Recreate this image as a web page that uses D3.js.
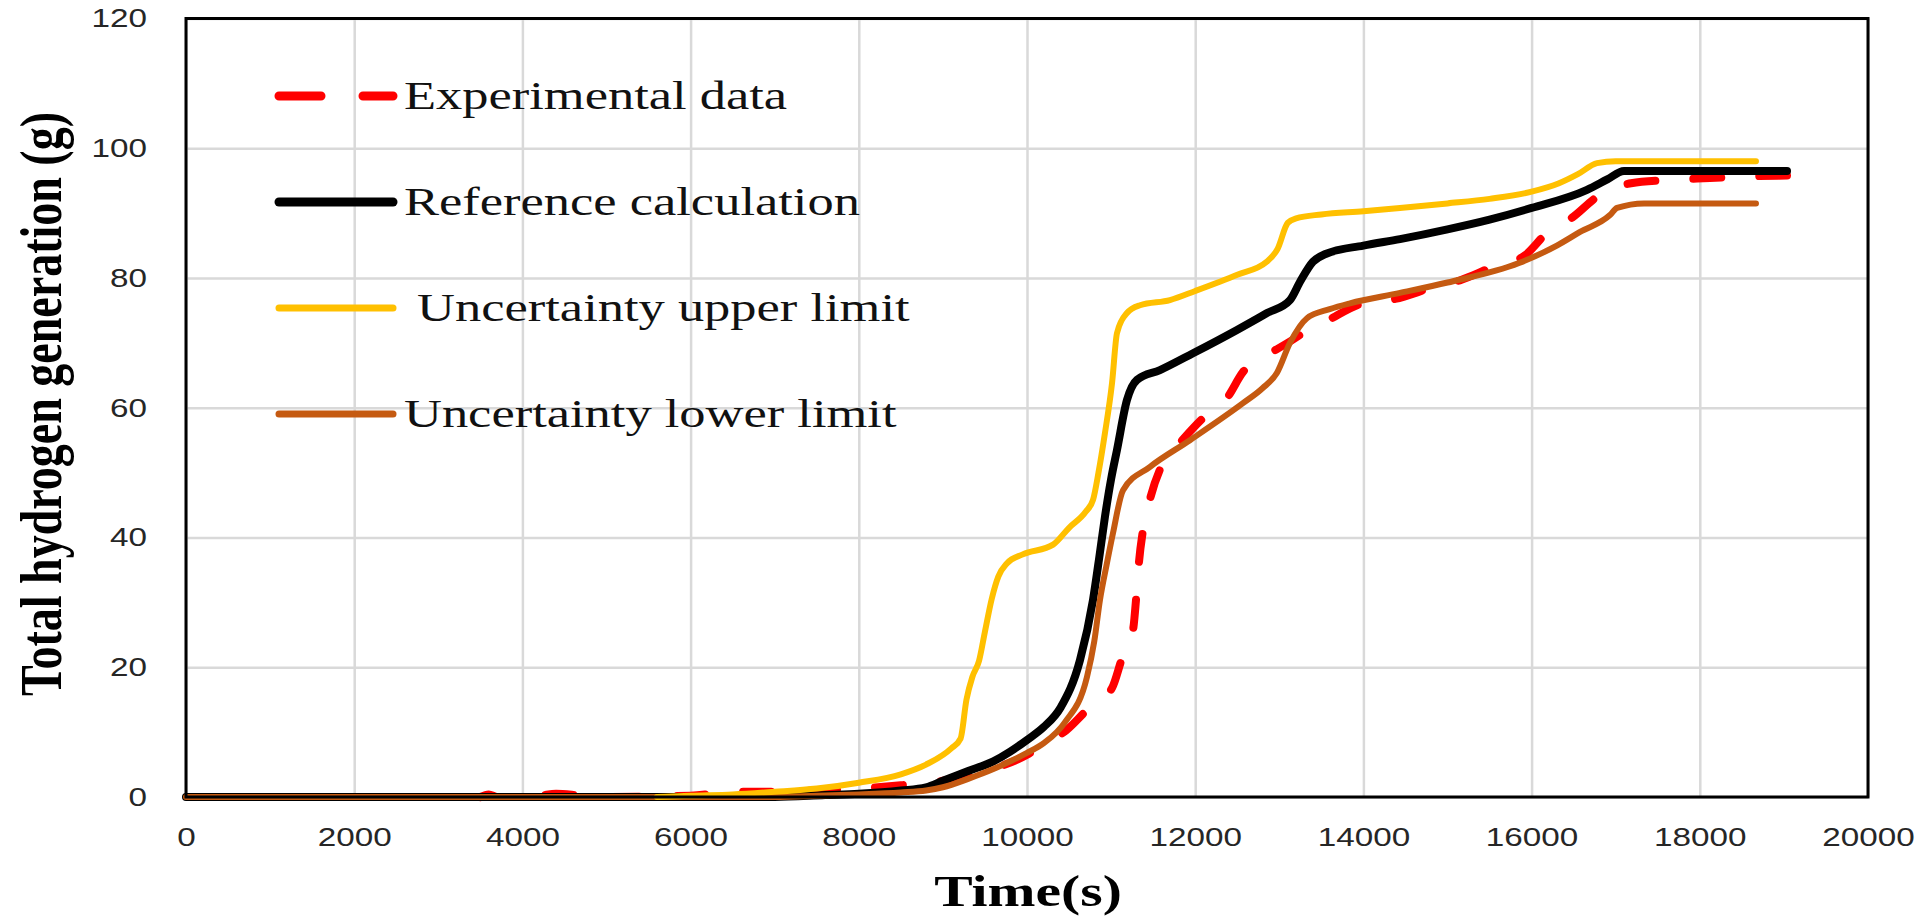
<!DOCTYPE html>
<html>
<head>
<meta charset="utf-8">
<script src="https://cdn.jsdelivr.net/npm/d3@7"></script>
<style>
  body { margin: 0; background: #fff; }
  svg { display: block; }
</style>
</head>
<body>
<svg id="chart"></svg>
<script>
// series: [time (s), hydrogen (g)]
const experimental = [
  [3500, 0], [3600, 0.4], [3700, 0], [4200, 0.2], [4400, 0.5], [4700, 0.2], [5000, 0], [6000, 0.2],
  [6500, 0.8], [7000, 0.8], [7500, 1.0], [8000, 1.3], [8500, 1.8], [9000, 2.5], [9500, 4],
  [10000, 6.5], [10273, 8.8], [10428, 9.9], [10713, 13.4], [11011, 16.8], [11130, 21.4],
  [11260, 25.7], [11300, 31], [11330, 36], [11380, 41.2], [11460, 45.8], [11617, 51.5],
  [11819, 54.6], [12093, 58.4], [12378, 61.5], [12568, 65.5], [12889, 68.4], [13100, 70],
  [13282, 71.5], [13579, 73.5], [13995, 76.1], [14316, 76.6], [14840, 78.6], [15160, 79.7],
  [15500, 81.5], [15922, 83.5], [16171, 86.8], [16492, 89.4], [16778, 92.5], [17182, 94.6],
  [17622, 95.1], [18121, 95.4], [18668, 95.7], [19037, 95.8]
];
const reference = [
  [0, 0], [7000, 0], [7600, 0.3], [8000, 0.5], [8500, 1], [8800, 1.5], [9000, 2.5], [9300, 4],
  [9600, 5.5], [9800, 7], [10000, 8.8], [10200, 10.8], [10400, 13.8], [10630, 21.1], [10785, 30.4],
  [10860, 37], [10927, 43.2], [11000, 49], [11070, 53.5], [11189, 61.2], [11308, 64.3],
  [11581, 65.8], [11974, 68.4], [12497, 72], [12854, 74.6], [13127, 76.6], [13250, 79.5],
  [13400, 82.5], [13550, 83.7], [14000, 85], [14435, 86], [15000, 87.5], [15500, 89],
  [16000, 90.8], [16659, 93.6], [16900, 95.2], [17099, 96.5], [19037, 96.5]
];
const upperLimit = [
  [5600, 0], [6000, 0.2], [6500, 0.4], [7000, 0.8], [7500, 1.3], [8000, 2.2], [8500, 3.5],
  [8800, 5], [9100, 7.5], [9210, 9], [9280, 15], [9350, 18.5], [9430, 21], [9500, 25.5],
  [9580, 30.5], [9660, 34], [9760, 36], [9950, 37.4], [10310, 38.9], [10500, 41.5],
  [10700, 44], [10785, 45.8], [10850, 50], [10927, 56.1], [11011, 63.8], [11070, 71.5],
  [11189, 74.6], [11343, 75.8], [11700, 76.6], [12000, 78], [12500, 80.5], [12850, 82.5],
  [12980, 84.5], [13100, 88.5], [13200, 89.2], [13500, 89.8], [14000, 90.3], [14435, 90.8],
  [15000, 91.5], [15500, 92.2], [16000, 93.3], [16326, 94.6], [16550, 96], [16778, 97.7],
  [17000, 98], [18668, 98]
];
const lowerLimit = [
  [0, 0], [7000, 0], [7500, 0.2], [8000, 0.4], [8500, 0.7], [8800, 1], [9000, 1.5], [9300, 2.8],
  [9600, 4.3], [9800, 5.5], [10000, 6.8], [10200, 8.3], [10450, 11.5], [10713, 18.5],
  [10800, 24], [10868, 30.4], [10950, 36], [11023, 40.7], [11142, 47.3], [11463, 50.9],
  [11938, 55], [12568, 60.7], [12800, 63], [12973, 65.4], [13127, 70], [13329, 73.8],
  [13600, 75.2], [13840, 76.1], [14435, 77.7], [15000, 79.3], [15850, 82.3], [16300, 85],
  [16576, 87.1], [16932, 89.7], [17016, 90.8], [17337, 91.5], [18668, 91.5]
];

const seriesNames = ["Experimental data", "Reference calculation", " Uncertainty upper limit", "Uncertainty lower limit"];
const seriesColors = ["#ff0000", "#000000", "#ffc000", "#c55a11"];
const xTicks = [0, 2000, 4000, 6000, 8000, 10000, 12000, 14000, 16000, 18000, 20000];
const yTicks = [0, 20, 40, 60, 80, 100, 120];

const width = 1932;
const height = 917;
const plot = { left: 186, right: 1868, top: 18.5, bottom: 797 };
const stretch = 1.28; // the figure's text is drawn wide

const svg = d3.select("#chart").attr("width", width).attr("height", height);

const x = d3.scaleLinear().domain([0, 20000]).range([plot.left, plot.right]);
const y = d3.scaleLinear().domain([0, 120]).range([plot.bottom, plot.top]);

//
// grid + tick labels
//
const xAxis = svg
  .append("g")
  .attr("transform", "translate(0," + plot.bottom + ")")
  .call(
    d3.axisBottom(x).tickValues(xTicks).tickFormat(d3.format("d"))
      .tickSizeInner(-(plot.bottom - plot.top)).tickSizeOuter(0).tickPadding(31)
  );

const yAxis = svg
  .append("g")
  .attr("transform", "translate(" + plot.left + ",0)")
  .call(
    d3.axisLeft(y).tickValues(yTicks).tickFormat(d3.format("d"))
      .tickSizeInner(-(plot.right - plot.left)).tickSizeOuter(0).tickPadding(30.5)
  );

[xAxis, yAxis].forEach((ax) => {
  ax.select(".domain").remove();
  ax.selectAll("line").attr("stroke", "#d9d9d9").attr("stroke-width", 2.5);
  ax.selectAll("text")
    .attr("transform", "scale(" + stretch + ",1)")
    .style("font-family", "'Liberation Sans', Arial, sans-serif")
    .style("font-size", "26px")
    .attr("fill", "#262626");
});

//
// series
//
const line = d3
  .line()
  .x((d) => x(d[0]))
  .y((d) => y(d[1]))
  .curve(d3.curveMonotoneX);

const series = [
  { data: experimental, color: seriesColors[0], w: 8, dash: "28,38" },
  { data: reference, color: seriesColors[1], w: 8, dash: null },
  { data: lowerLimit, color: seriesColors[3], w: 6, dash: null },
  { data: upperLimit, color: seriesColors[2], w: 6, dash: null },
];

svg
  .selectAll("path.series")
  .data(series)
  .enter()
  .append("path")
  .attr("class", "series")
  .attr("d", (d) => line(d.data))
  .attr("fill", "none")
  .attr("stroke", (d) => d.color)
  .attr("stroke-width", (d) => d.w)
  .attr("stroke-linecap", "round")
  .attr("stroke-linejoin", "round")
  .attr("stroke-dasharray", (d) => d.dash);

// plot frame
svg
  .append("rect")
  .attr("x", plot.left)
  .attr("y", plot.top)
  .attr("width", plot.right - plot.left)
  .attr("height", plot.bottom - plot.top)
  .attr("fill", "none")
  .attr("stroke", "#000")
  .attr("stroke-width", 3);

//
// legend
//
const legend = svg
  .selectAll("g.legend")
  .data(seriesNames)
  .enter()
  .append("g")
  .attr("class", "legend")
  .attr("transform", (d, i) => "translate(0," + (96 + i * 106) + ")");

legend
  .append("line")
  .attr("x1", 279)
  .attr("x2", 393)
  .attr("stroke", (d, i) => seriesColors[i])
  .attr("stroke-width", (d, i) => (i < 2 ? 9 : 7))
  .attr("stroke-linecap", "round")
  .attr("stroke-dasharray", (d, i) => (i == 0 ? "42,42" : null));

legend
  .append("text")
  .attr("transform", "translate(404,13) scale(" + stretch + ",1)")
  .style("font-family", "'Liberation Serif', 'Times New Roman', serif")
  .style("font-size", "41px")
  .style("white-space", "pre")
  .attr("fill", "#111")
  .text((d) => d);

//
// axis titles
//
svg
  .append("text")
  .attr("transform", "translate(1028,906) scale(" + stretch + ",1)")
  .attr("text-anchor", "middle")
  .style("font-family", "'Liberation Serif', 'Times New Roman', serif")
  .style("font-size", "45px")
  .style("font-weight", 700)
  .text("Time(s)");

svg
  .append("text")
  .attr("transform", "translate(41,404) scale(" + stretch + ",1) rotate(-90)")
  .attr("text-anchor", "middle")
  .attr("dominant-baseline", "central")
  .style("font-family", "'Liberation Serif', 'Times New Roman', serif")
  .style("font-size", "46px")
  .style("font-weight", 700)
  .text("Total hydrogen generation (g)");
</script>
</body>
</html>
